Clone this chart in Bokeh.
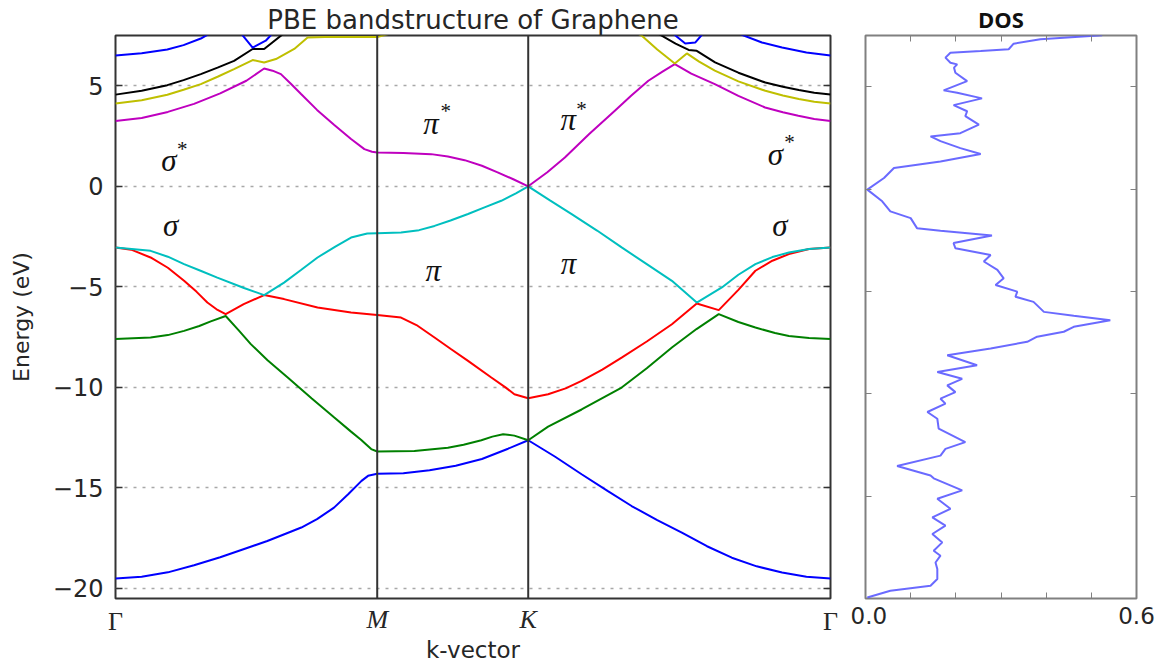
from bokeh.plotting import figure
from bokeh.layouts import row
from bokeh.models import (FixedTicker, LinearAxis, Range1d, Span, PrintfTickFormatter,
                          CustomJSTickFormatter)
from bokeh.core.properties import value
from bokeh.embed import file_html
from bokeh.resources import INLINE

NAN = float("nan")

# High-symmetry path Γ–M–K–Γ, k measured in units of |ΓM|
kpoint_names = ["Γ", "M", "K", "Γ"]
kpoint_pos = [0.0, 1.0, 1.577, 2.732]
energy_ticks = [-20, -15, -10, -5, 0, 5]

# Bands (eV), sorted by energy; NaN breaks a band where it leaves the window
band1_k = [0, 0.1, 0.2, 0.3, 0.4, 0.5, 0.58, 0.65, 0.71, 0.77, 0.835, 0.89, 0.94, 0.965, 1.0,
           1.1, 1.2, 1.3, 1.4, 1.5, 1.577,
           1.68, 1.781, 1.88, 1.972, 2.07, 2.164, 2.26, 2.355, 2.45, 2.547, 2.64, 2.732]
band1_e = [-19.5, -19.42, -19.2, -18.85, -18.45, -18.0, -17.64, -17.28, -16.97, -16.55, -15.98,
           -15.3, -14.65, -14.4, -14.3,
           -14.27, -14.12, -13.9, -13.56, -13.05, -12.63,
           -13.45, -14.32, -15.15, -15.9, -16.6, -17.22, -17.9, -18.47, -18.9, -19.21, -19.42, -19.5]

band2_k = [0, 0.134, 0.2, 0.262, 0.32, 0.364, 0.421, 0.47, 0.517, 0.581, 0.658, 0.75, 0.836, 0.9,
           0.938, 0.977, 1.0,
           1.142, 1.27, 1.33, 1.398, 1.44, 1.481, 1.524, 1.577,
           1.653, 1.781, 1.934, 2.03, 2.126, 2.22, 2.305, 2.38, 2.445, 2.52, 2.573, 2.65, 2.732]
band2_e = [-7.6, -7.52, -7.4, -7.19, -6.95, -6.72, -6.45, -7.15, -7.85, -8.65, -9.51, -10.55, -11.5,
           -12.2, -12.6, -13.07, -13.19,
           -13.16, -13.0, -12.85, -12.63, -12.45, -12.33, -12.4, -12.63,
           -11.95, -11.1, -10.01, -9.05, -8.02, -7.1, -6.36, -6.75, -7.02, -7.3, -7.44, -7.55, -7.6]

band3_k = [0, 0.06, 0.134, 0.2, 0.262, 0.31, 0.351, 0.39, 0.421, 0.49, 0.568, 0.644, 0.772, 0.9, 1.0,
           1.091, 1.15, 1.219, 1.28, 1.347, 1.436, 1.49, 1.524, 1.577,
           1.653, 1.72, 1.781, 1.86, 1.934, 2.03, 2.126, 2.221, 2.305, 2.38, 2.445, 2.51, 2.573,
           2.65, 2.732]
band3_e = [-3.04, -3.15, -3.54, -4.05, -4.70, -5.25, -5.78, -6.15, -6.36, -5.86, -5.41, -5.61, -6.03,
           -6.28, -6.4,
           -6.53, -6.9, -7.52, -8.08, -8.68, -9.51, -10.0, -10.34, -10.54,
           -10.34, -10.05, -9.68, -9.12, -8.52, -7.72, -6.86, -5.83, -6.16, -5.15, -4.20, -3.7, -3.37,
           -3.12, -3.04]

band4_k = [0, 0.134, 0.2, 0.262, 0.325, 0.389, 0.491, 0.568, 0.644, 0.71, 0.772, 0.84, 0.9, 0.962, 1.0,
           1.091, 1.16, 1.219, 1.28, 1.347, 1.41, 1.474, 1.53, 1.577,
           1.66, 1.743, 1.84, 1.934, 2.03, 2.126, 2.221, 2.317, 2.38, 2.445, 2.51, 2.573, 2.65, 2.732]
band4_e = [-3.04, -3.21, -3.5, -3.87, -4.2, -4.54, -5.06, -5.41, -4.79, -4.15, -3.54, -3.0, -2.55,
           -2.35, -2.33,
           -2.3, -2.18, -1.97, -1.7, -1.38, -1.05, -0.72, -0.35, 0.0,
           -0.7, -1.38, -2.2, -3.04, -3.87, -4.70, -5.78, -5.03, -4.4, -3.87, -3.52, -3.29, -3.12, -3.04]

band5_k = [0, 0.1, 0.2, 0.3, 0.4, 0.5, 0.568, 0.6, 0.632, 0.67, 0.709, 0.77, 0.836, 0.9, 0.951, 0.98,
           1.0, 1.1, 1.206, 1.27, 1.334, 1.4, 1.46, 1.52, 1.577,
           1.65, 1.717, 1.81, 1.908, 1.97, 2.036, 2.09, 2.137, 2.2, 2.29, 2.38, 2.482, 2.55, 2.609,
           2.67, 2.732]
band5_e = [3.25, 3.4, 3.7, 4.1, 4.62, 5.25, 5.86, 5.75, 5.58, 5.1, 4.59, 3.8, 3.05, 2.35, 1.85, 1.72,
           1.68, 1.66, 1.6, 1.48, 1.30, 1.02, 0.69, 0.35, 0.0,
           0.7, 1.43, 2.6, 3.76, 4.5, 5.25, 5.7, 6.08, 5.6, 5.08, 4.5, 3.92, 3.68, 3.51, 3.35, 3.25]

band6_k = [0, 0.1, 0.198, 0.26, 0.326, 0.39, 0.453, 0.524, 0.568, 0.613, 0.683, 0.734, 0.8, 0.9, 1.0,
           1.05, NAN,
           1.98, 2.011, 2.07, 2.137, 2.183, 2.23, 2.29, 2.38, 2.483, 2.55, 2.611, 2.67, 2.732]
band6_e = [4.12, 4.28, 4.55, 4.8, 5.08, 5.45, 5.83, 6.28, 6.16, 6.33, 6.83, 7.4, 7.42, 7.42, 7.42,
           7.6, NAN,
           7.7, 7.49, 6.8, 6.11, 6.61, 6.2, 5.75, 5.22, 4.75, 4.52, 4.34, 4.2, 4.12]

band7_k = [0, 0.1, 0.198, 0.26, 0.326, 0.39, 0.453, 0.524, 0.568, 0.632, 0.65, NAN,
           2.06, 2.087, 2.14, 2.19, 2.221, 2.291, 2.38, 2.483, 2.55, 2.611, 2.67, 2.732]
band7_e = [4.56, 4.75, 5.03, 5.28, 5.58, 5.9, 6.24, 6.83, 6.83, 7.49, 7.7, NAN,
           7.7, 7.49, 7.1, 6.78, 6.74, 6.16, 5.65, 5.16, 4.95, 4.79, 4.65, 4.56]

band8_k = [0, 0.1, 0.198, 0.26, 0.326, 0.36, NAN, 0.48, 0.524, 0.574, 0.6, NAN,
           2.13, 2.177, 2.215, 2.245, NAN, 2.38, 2.47, 2.547, 2.64, 2.732]
band8_e = [6.51, 6.62, 6.8, 7.02, 7.35, 7.6, NAN, 7.6, 6.9, 7.24, 7.6, NAN,
           7.6, 7.1, 7.15, 7.6, NAN, 7.6, 7.15, 6.9, 6.65, 6.51]

bands = [(band1_k, band1_e), (band2_k, band2_e), (band3_k, band3_e), (band4_k, band4_e),
         (band5_k, band5_e), (band6_k, band6_e), (band7_k, band7_e), (band8_k, band8_e)]
band_colors = ["#0000ff", "#008000", "#ff0000", "#00bfbf", "#bf00bf", "#bfbf00", "#000000", "#0000ff"]

# Orbital character labels
orbital_k = [0.204, 0.211, 1.206, 1.214, 1.730, 1.731, 2.521, 2.539]
orbital_e = [1.27, -1.97, 3.1, -4.2, 3.34, -3.86, 1.6, -1.97]
orbital_text = ["σ", "σ", "π", "π", "π", "π", "σ", "σ"]
star_k = [0.255, 1.262, 1.781, 2.575]
star_e = [1.85, 3.76, 3.84, 2.18]

# Density of states
dos_energy = [7.51, 7.32, 7.1, 6.83, 6.74, 6.66, 6.42, 6.17, 6.09, 5.93, 5.68, 5.27, 4.82, 4.7, 4.43,
              4.1, 3.8, 3.56, 3.15, 2.73, 2.57, 2.34, 2.0, 1.71, 1.35, 1.03, 0.54, -0.03, -0.6, -1.09,
              -1.42, -1.91, -2.04, -2.27, -2.64, -2.89, -3.22, -3.54, -3.95, -4.36, -4.69, -5.01,
              -5.26, -5.51, -6.0, -6.19, -6.41, -6.73, -6.97, -7.21, -7.46, -7.79, -8.12, -8.61,
              -8.94, -9.27, -9.59, -9.92, -10.24, -10.48, -10.89, -11.22, -11.7, -12.36, -12.69,
              -13.02, -13.53, -13.99, -14.13, -14.72, -15.13, -15.62, -16.04, -16.44, -16.85,
              -17.26, -17.67, -17.91, -18.24, -18.56, -19.05, -19.38, -19.62, -19.95]
dos_value = [0.524, 0.387, 0.328, 0.317, 0.255, 0.188, 0.177, 0.188, 0.203, 0.196, 0.199, 0.225, 0.173,
             0.203, 0.258, 0.195, 0.225, 0.221, 0.251, 0.210, 0.144, 0.166, 0.210, 0.255, 0.166,
             0.063, 0.041, 0.004, 0.037, 0.055, 0.1, 0.114, 0.166, 0.280, 0.195, 0.199, 0.277,
             0.262, 0.292, 0.306, 0.288, 0.336, 0.332, 0.372, 0.395, 0.461, 0.542, 0.461, 0.439,
             0.380, 0.358, 0.277, 0.181, 0.247, 0.159, 0.214, 0.181, 0.199, 0.166, 0.177, 0.137,
             0.159, 0.162, 0.221, 0.177, 0.166, 0.070, 0.144, 0.151, 0.214, 0.159, 0.188, 0.148,
             0.177, 0.148, 0.170, 0.151, 0.166, 0.155, 0.159, 0.159, 0.144, 0.055, 0.004]
dos_ticks = [0.0, 0.6]
dos_minor_ticks = [0.1, 0.2, 0.3, 0.4, 0.5]
dos_energy_ticks = [-15, -10, -5, 0, 5]

SANS = "DejaVu Sans"
SERIF = "Liberation Serif"
TEXT = "#262626"

blank = CustomJSTickFormatter(code="return '';")
kname = CustomJSTickFormatter(args=dict(pos=kpoint_pos, names=kpoint_names), code="""
let best = 0;
for (let i = 0; i < pos.length; i++) {
    if (Math.abs(pos[i] - tick) < Math.abs(pos[best] - tick)) best = i;
}
return names[best];
""")

# ---------------- band structure panel ----------------
p = figure(width=850, height=668, output_backend="svg", toolbar_location=None,
           x_range=Range1d(kpoint_pos[0], kpoint_pos[-1]), y_range=Range1d(-20.5, 7.5),
           min_border_left=115, min_border_right=20, min_border_top=34, min_border_bottom=70)
p.title.text = "PBE bandstructure of Graphene"
p.title.align = "center"
p.title.text_font = SANS
p.title.text_font_size = "26px"
p.title.text_font_style = "normal"
p.title.text_color = TEXT
p.title.standoff = 1
p.outline_line_color = "#333333"
p.outline_line_width = 2
p.background_fill_color = "white"
p.border_fill_color = "white"

p.xgrid.visible = False
p.ygrid.ticker = FixedTicker(ticks=energy_ticks)
p.ygrid.grid_line_color = "#a8a8a8"
p.ygrid.grid_line_dash = "3 6"
p.ygrid.grid_line_width = 1.5

tick_labels = {t: ("\u2212" + str(abs(t)) if t < 0 else str(t)) for t in energy_ticks}
yax = p.yaxis[0]
yax.ticker = FixedTicker(ticks=energy_ticks)
yax.major_label_overrides = tick_labels
yax.major_label_text_font = SANS
yax.major_label_text_font_size = "24px"
yax.major_label_text_color = TEXT
yax.major_label_standoff = 12
yax.major_tick_in = 7
yax.major_tick_out = 0
yax.major_tick_line_color = "#333333"
yax.major_tick_line_width = 1.5
yax.minor_tick_line_color = None
yax.axis_line_color = None
yax.axis_label = "Energy (eV)"
yax.axis_label_text_font = SANS
yax.axis_label_text_font_size = "22px"
yax.axis_label_text_font_style = "normal"
yax.axis_label_text_color = TEXT
yax.axis_label_standoff = 16

p.add_layout(LinearAxis(ticker=FixedTicker(ticks=energy_ticks), formatter=blank,
                        major_tick_in=7, major_tick_out=0, major_tick_line_color="#333333",
                        major_tick_line_width=1.5, minor_tick_line_color=None,
                        axis_line_color=None), "right")

# Γ points (upright) on the first bottom axis, M and K (italic) on a second one
xax = p.xaxis[0]
xax.ticker = FixedTicker(ticks=[kpoint_pos[0], kpoint_pos[3]])
xax.formatter = kname
xax.axis_line_color = None
xax.major_tick_line_color = None
xax.minor_tick_line_color = None
xax.major_label_text_font = SERIF
xax.major_label_text_font_size = "26px"
xax.major_label_text_color = TEXT
xax.major_label_standoff = 2

mk_axis = LinearAxis(ticker=FixedTicker(ticks=[kpoint_pos[1], kpoint_pos[2]]), formatter=kname,
                     axis_line_color=None, major_tick_line_color=None, minor_tick_line_color=None,
                     major_label_text_font=SERIF, major_label_text_font_size="26px",
                     major_label_text_font_style="italic", major_label_text_color=TEXT,
                     major_label_standoff=-40,
                     axis_label="k-vector", axis_label_text_font=SANS,
                     axis_label_text_font_size="23px", axis_label_text_font_style="normal",
                     axis_label_text_color=TEXT, axis_label_standoff=0)
p.add_layout(mk_axis, "below")

for kp in kpoint_pos[1:-1]:
    p.add_layout(Span(location=kp, dimension="height", line_color="#333333", line_width=2))

for (ks, es), col in zip(bands, band_colors):
    p.line(ks, es, line_color=col, line_width=2)

p.text(x=orbital_k, y=orbital_e, text=orbital_text, text_font=value(SERIF), text_font_style="italic",
       text_font_size="31px", text_align="center", text_baseline="middle", text_color="#111111")
p.text(x=star_k, y=star_e, text=["*"] * len(star_k), text_font=value(SERIF),
       text_font_size="21px", text_align="center", text_baseline="middle", text_color="#111111")

# ---------------- DOS panel ----------------
q = figure(width=315, height=668, output_backend="svg", toolbar_location=None,
           x_range=Range1d(0, 0.6), y_range=Range1d(-20, 7.5),
           min_border_left=15, min_border_right=29, min_border_top=34, min_border_bottom=70)
q.title.text = "DOS"
q.title.align = "center"
q.title.text_font = "Open Sans"
q.title.text_font_size = "22px"
q.title.text_font_style = "bold"
q.title.text_color = "#111111"
q.title.standoff = 3
q.outline_line_color = "#808080"
q.outline_line_width = 2
q.xgrid.visible = False
q.ygrid.visible = False

qx = q.xaxis[0]
qx.ticker = FixedTicker(ticks=dos_ticks, minor_ticks=dos_minor_ticks)
qx.formatter = PrintfTickFormatter(format="%.1f")
qx.major_label_text_font = SANS
qx.major_label_text_font_size = "23px"
qx.major_label_text_color = TEXT
qx.major_label_standoff = 8
qx.axis_line_color = None
qx.major_tick_in = 6
qx.major_tick_out = 0
qx.minor_tick_in = 6
qx.minor_tick_out = 0
qx.major_tick_line_color = "#808080"
qx.minor_tick_line_color = "#808080"

q.add_layout(LinearAxis(ticker=FixedTicker(ticks=dos_ticks, minor_ticks=dos_minor_ticks),
                        formatter=blank, major_tick_in=6, major_tick_out=0,
                        minor_tick_in=6, minor_tick_out=0, major_tick_line_color="#808080",
                        minor_tick_line_color="#808080", axis_line_color=None), "above")

qy = q.yaxis[0]
qy.ticker = FixedTicker(ticks=dos_energy_ticks)
qy.formatter = blank
qy.major_label_standoff = 0
qy.major_tick_in = 6
qy.major_tick_out = 0
qy.major_tick_line_color = "#808080"
qy.minor_tick_line_color = None
qy.axis_line_color = None
q.add_layout(LinearAxis(ticker=FixedTicker(ticks=dos_energy_ticks), formatter=blank,
                        major_label_standoff=0, major_tick_in=6, major_tick_out=0,
                        major_tick_line_color="#808080", minor_tick_line_color=None,
                        axis_line_color=None), "right")

q.line(dos_value, dos_energy, line_color="#5a5aff", line_alpha=0.9, line_width=2)

layout = row(p, q)
open("out.html", "w").write(file_html(layout, INLINE))
